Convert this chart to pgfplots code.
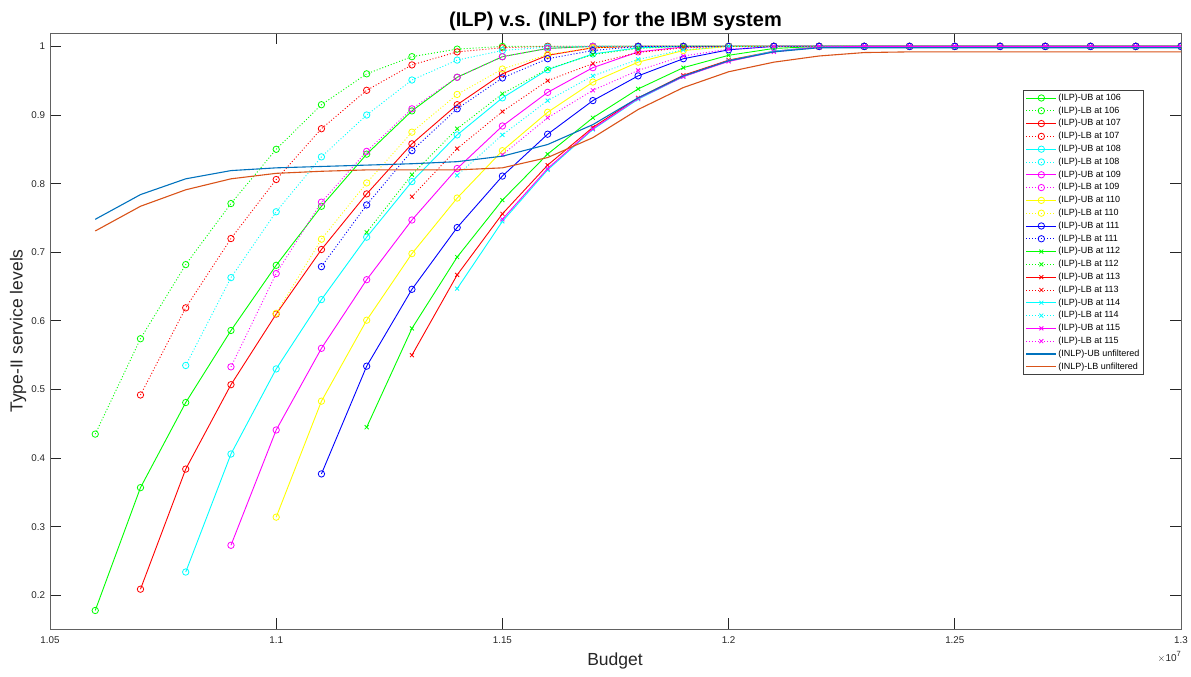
\documentclass[border=0pt]{standalone}
\usepackage{fontspec}
\setmainfont{Liberation Sans}
\usepackage{pgfplots}
\pgfplotsset{compat=1.18}
\definecolor{matblue}{rgb}{0,0.447,0.741}
\definecolor{matorange}{rgb}{0.851,0.325,0.098}
\definecolor{axgray}{rgb}{0.38,0.38,0.38}
\definecolor{txtgray}{rgb}{0.15,0.15,0.15}
\definecolor{mgreen}{rgb}{0,1,0}
\definecolor{mred}{rgb}{1,0,0}
\definecolor{mcyan}{rgb}{0,1,1}
\definecolor{mmagenta}{rgb}{1,0,1}
\definecolor{myellow}{rgb}{1,1,0}
\definecolor{mblue}{rgb}{0,0,1}
\pgfplotsset{
  ub/.style={solid, line width=0.9pt},
  lb/.style={dash pattern=on 1pt off 2pt, line width=0.9pt},
  co/.style={mark=o, mark size=3.2pt, mark options={solid, line width=0.8pt}},
  cx/.style={mark=x, mark size=2.8pt, mark options={solid, line width=0.8pt}},
}
\begin{document}
\begin{tikzpicture}
\begin{axis}[
  name=ax,
  at={(0,0)}, anchor=south west,
  scale only axis, width=1131pt, height=596pt,
  xmin=1.05, xmax=1.30, ymin=0.151, ymax=1.0195,
  xtick={1.05,1.1,1.15,1.2,1.25,1.3},
  xticklabels={1.05,1.1,1.15,1.2,1.25,1.3},
  ytick={0.2,0.3,0.4,0.5,0.6,0.7,0.8,0.9,1},
  yticklabels={0.2,0.3,0.4,0.5,0.6,0.7,0.8,0.9,1},
  /pgf/number format/assume math mode=true,
  tick align=inside, major tick length=11pt,
  axis line style={axgray, line width=0.8pt},
  every tick/.style={txtgray, line width=0.8pt},
  tick label style={font=\fontsize{9.8}{11}\selectfont, text=txtgray},
  xticklabel style={yshift=-4pt},
  yticklabel style={xshift=-1.5pt},
  clip marker paths=true,
  title={(ILP) v.s. (INLP) for the IBM system},
  every axis title shift=0pt,
  title style={at={(axis description cs:0.5,1.0101)}, anchor=base, inner sep=0pt, font=\bfseries\fontsize{20}{24}\selectfont},
  xlabel={Budget},
  xlabel style={at={(axis description cs:0.4996,-0.0537)}, anchor=center, font=\fontsize{17.5}{20}\selectfont, text=txtgray},
  ylabel={Type-II service levels},
  ylabel style={at={(axis description cs:-0.0283,0.5)}, anchor=center, rotate=0, font=\fontsize{17.5}{20}\selectfont, text=txtgray},
  legend style={at={(axis description cs:0.9673,0.9044)}, anchor=north east,
    font=\fontsize{9}{10}\selectfont, draw=black!75, line width=0.6pt, fill=white,
    row sep=1.4pt, inner xsep=3pt, inner ysep=2pt,
    nodes={inner sep=1.4pt, text height=6.6pt, text depth=2pt, anchor=west}},
  legend cell align=left,
  legend image code/.code={\draw[mark repeat=2,mark phase=2] plot coordinates {(0pt,0pt) (15pt,0pt) (30pt,0pt)};},
]
% UB 106
\addplot[mgreen, ub, co] coordinates {(1.06,0.178)(1.07,0.357)(1.08,0.481)(1.09,0.586)(1.10,0.681)(1.11,0.767)(1.12,0.843)(1.13,0.906)(1.14,0.955)(1.15,0.985)(1.16,0.997)(1.17,1)(1.18,1)(1.19,1)(1.20,1)(1.21,1)(1.22,1)(1.23,1)(1.24,1)(1.25,1)(1.26,1)(1.27,1)(1.28,1)(1.29,1)(1.30,1)};
\addlegendentry{(ILP)-UB at 106}
% LB 106
\addplot[mgreen, lb, co] coordinates {(1.06,0.435)(1.07,0.574)(1.08,0.682)(1.09,0.771)(1.10,0.850)(1.11,0.915)(1.12,0.960)(1.13,0.985)(1.14,0.996)(1.15,1)(1.16,1)(1.17,1)(1.18,1)(1.19,1)(1.20,1)(1.21,1)(1.22,1)(1.23,1)(1.24,1)(1.25,1)(1.26,1)(1.27,1)(1.28,1)(1.29,1)(1.30,1)};
\addlegendentry{(ILP)-LB at 106}
% UB 107
\addplot[mred, ub, co] coordinates {(1.07,0.209)(1.08,0.384)(1.09,0.507)(1.10,0.610)(1.11,0.704)(1.12,0.785)(1.13,0.858)(1.14,0.915)(1.15,0.960)(1.16,0.987)(1.17,0.998)(1.18,1)(1.19,1)(1.20,1)(1.21,1)(1.22,1)(1.23,1)(1.24,1)(1.25,1)(1.26,1)(1.27,1)(1.28,1)(1.29,1)(1.30,1)};
\addlegendentry{(ILP)-UB at 107}
% LB 107
\addplot[mred, lb, co] coordinates {(1.07,0.492)(1.08,0.619)(1.09,0.720)(1.10,0.806)(1.11,0.880)(1.12,0.936)(1.13,0.973)(1.14,0.992)(1.15,0.998)(1.16,1)(1.17,1)(1.18,1)(1.19,1)(1.20,1)(1.21,1)(1.22,1)(1.23,1)(1.24,1)(1.25,1)(1.26,1)(1.27,1)(1.28,1)(1.29,1)(1.30,1)};
\addlegendentry{(ILP)-LB at 107}
% UB 108
\addplot[mcyan, ub, co] coordinates {(1.08,0.234)(1.09,0.406)(1.10,0.530)(1.11,0.631)(1.12,0.722)(1.13,0.803)(1.14,0.871)(1.15,0.925)(1.16,0.966)(1.17,0.989)(1.18,0.998)(1.19,1)(1.20,1)(1.21,1)(1.22,1)(1.23,1)(1.24,1)(1.25,1)(1.26,1)(1.27,1)(1.28,1)(1.29,1)(1.30,1)};
\addlegendentry{(ILP)-UB at 108}
% LB 108
\addplot[mcyan, lb, co] coordinates {(1.08,0.535)(1.09,0.663)(1.10,0.759)(1.11,0.839)(1.12,0.900)(1.13,0.951)(1.14,0.980)(1.15,0.994)(1.16,0.999)(1.17,1)(1.18,1)(1.19,1)(1.20,1)(1.21,1)(1.22,1)(1.23,1)(1.24,1)(1.25,1)(1.26,1)(1.27,1)(1.28,1)(1.29,1)(1.30,1)};
\addlegendentry{(ILP)-LB at 108}
% UB 109
\addplot[mmagenta, ub, co] coordinates {(1.09,0.273)(1.10,0.441)(1.11,0.560)(1.12,0.660)(1.13,0.747)(1.14,0.822)(1.15,0.884)(1.16,0.933)(1.17,0.969)(1.18,0.992)(1.19,0.999)(1.20,1)(1.21,1)(1.22,1)(1.23,1)(1.24,1)(1.25,1)(1.26,1)(1.27,1)(1.28,1)(1.29,1)(1.30,1)};
\addlegendentry{(ILP)-UB at 109}
% LB 109
\addplot[mmagenta, lb, co] coordinates {(1.09,0.533)(1.10,0.669)(1.11,0.773)(1.12,0.847)(1.13,0.909)(1.14,0.955)(1.15,0.985)(1.16,0.997)(1.17,1)(1.18,1)(1.19,1)(1.20,1)(1.21,1)(1.22,1)(1.23,1)(1.24,1)(1.25,1)(1.26,1)(1.27,1)(1.28,1)(1.29,1)(1.30,1)};
\addlegendentry{(ILP)-LB at 109}
% UB 110
\addplot[myellow, ub, co] coordinates {(1.10,0.314)(1.11,0.483)(1.12,0.601)(1.13,0.698)(1.14,0.779)(1.15,0.848)(1.16,0.904)(1.17,0.948)(1.18,0.977)(1.19,0.994)(1.20,1)(1.21,1)(1.22,1)(1.23,1)(1.24,1)(1.25,1)(1.26,1)(1.27,1)(1.28,1)(1.29,1)(1.30,1)};
\addlegendentry{(ILP)-UB at 110}
% LB 110
\addplot[myellow, lb, co] coordinates {(1.10,0.611)(1.11,0.719)(1.12,0.801)(1.13,0.875)(1.14,0.930)(1.15,0.967)(1.16,0.988)(1.17,0.998)(1.18,1)(1.19,1)(1.20,1)(1.21,1)(1.22,1)(1.23,1)(1.24,1)(1.25,1)(1.26,1)(1.27,1)(1.28,1)(1.29,1)(1.30,1)};
\addlegendentry{(ILP)-LB at 110}
% UB 111
\addplot[mblue, ub, co] coordinates {(1.11,0.377)(1.12,0.534)(1.13,0.646)(1.14,0.736)(1.15,0.811)(1.16,0.872)(1.17,0.921)(1.18,0.957)(1.19,0.982)(1.20,0.995)(1.21,1)(1.22,1)(1.23,1)(1.24,1)(1.25,1)(1.26,1)(1.27,1)(1.28,1)(1.29,1)(1.30,1)};
\addlegendentry{(ILP)-UB at 111}
% LB 111
\addplot[mblue, lb, co] coordinates {(1.11,0.679)(1.12,0.769)(1.13,0.848)(1.14,0.909)(1.15,0.954)(1.16,0.982)(1.17,0.994)(1.18,1)(1.19,1)(1.20,1)(1.21,1)(1.22,1)(1.23,1)(1.24,1)(1.25,1)(1.26,1)(1.27,1)(1.28,1)(1.29,1)(1.30,1)};
\addlegendentry{(ILP)-LB at 111}
% UB 112
\addplot[mgreen, ub, cx] coordinates {(1.12,0.445)(1.13,0.589)(1.14,0.693)(1.15,0.776)(1.16,0.843)(1.17,0.896)(1.18,0.938)(1.19,0.969)(1.20,0.987)(1.21,0.997)(1.22,1)(1.23,1)(1.24,1)(1.25,1)(1.26,1)(1.27,1)(1.28,1)(1.29,1)(1.30,1)};
\addlegendentry{(ILP)-UB at 112}
% LB 112
\addplot[mgreen, lb, cx] coordinates {(1.12,0.729)(1.13,0.813)(1.14,0.880)(1.15,0.931)(1.16,0.967)(1.17,0.988)(1.18,0.997)(1.19,1)(1.20,1)(1.21,1)(1.22,1)(1.23,1)(1.24,1)(1.25,1)(1.26,1)(1.27,1)(1.28,1)(1.29,1)(1.30,1)};
\addlegendentry{(ILP)-LB at 112}
% UB 113
\addplot[mred, ub, cx] coordinates {(1.13,0.550)(1.14,0.667)(1.15,0.756)(1.16,0.827)(1.17,0.882)(1.18,0.925)(1.19,0.958)(1.20,0.980)(1.21,0.993)(1.22,0.999)(1.23,1)(1.24,1)(1.25,1)(1.26,1)(1.27,1)(1.28,1)(1.29,1)(1.30,1)};
\addlegendentry{(ILP)-UB at 113}
% LB 113
\addplot[mred, lb, cx] coordinates {(1.13,0.781)(1.14,0.851)(1.15,0.905)(1.16,0.950)(1.17,0.975)(1.18,0.991)(1.19,0.998)(1.20,1)(1.21,1)(1.22,1)(1.23,1)(1.24,1)(1.25,1)(1.26,1)(1.27,1)(1.28,1)(1.29,1)(1.30,1)};
\addlegendentry{(ILP)-LB at 113}
% UB 114
\addplot[mcyan, ub, cx] coordinates {(1.14,0.647)(1.15,0.745)(1.16,0.820)(1.17,0.879)(1.18,0.923)(1.19,0.956)(1.20,0.979)(1.21,0.993)(1.22,0.999)(1.23,1)(1.24,1)(1.25,1)(1.26,1)(1.27,1)(1.28,1)(1.29,1)(1.30,1)};
\addlegendentry{(ILP)-UB at 114}
% LB 114
\addplot[mcyan, lb, cx] coordinates {(1.14,0.812)(1.15,0.871)(1.16,0.921)(1.17,0.957)(1.18,0.981)(1.19,0.995)(1.20,1)(1.21,1)(1.22,1)(1.23,1)(1.24,1)(1.25,1)(1.26,1)(1.27,1)(1.28,1)(1.29,1)(1.30,1)};
\addlegendentry{(ILP)-LB at 114}
% UB 115
\addplot[mmagenta, ub, cx] coordinates {(1.15,0.748)(1.16,0.822)(1.17,0.880)(1.18,0.924)(1.19,0.956)(1.20,0.978)(1.21,0.992)(1.22,0.999)(1.23,1)(1.24,1)(1.25,1)(1.26,1)(1.27,1)(1.28,1)(1.29,1)(1.30,1)};
\addlegendentry{(ILP)-UB at 115}
% LB 115
\addplot[mmagenta, lb, cx] coordinates {(1.15,0.842)(1.16,0.896)(1.17,0.936)(1.18,0.965)(1.19,0.986)(1.20,0.996)(1.21,1)(1.22,1)(1.23,1)(1.24,1)(1.25,1)(1.26,1)(1.27,1)(1.28,1)(1.29,1)(1.30,1)};
\addlegendentry{(ILP)-LB at 115}
% INLP UB
\addplot[matblue, solid, line width=1.1pt, mark=none] coordinates {(1.06,0.748)(1.07,0.784)(1.08,0.807)(1.09,0.819)(1.10,0.823)(1.11,0.825)(1.12,0.827)(1.13,0.829)(1.14,0.832)(1.15,0.840)(1.16,0.857)(1.17,0.886)(1.18,0.925)(1.19,0.957)(1.20,0.979)(1.21,0.992)(1.22,0.998)(1.23,0.998)(1.24,0.998)(1.25,0.998)(1.26,0.998)(1.27,0.998)(1.28,0.998)(1.29,0.998)(1.30,0.998)};
\addlegendentry{(INLP)-UB unfiltered}
% INLP LB
\addplot[matorange, solid, line width=1.1pt, mark=none] coordinates {(1.06,0.731)(1.07,0.767)(1.08,0.791)(1.09,0.807)(1.10,0.815)(1.11,0.818)(1.12,0.820)(1.13,0.820)(1.14,0.820)(1.15,0.823)(1.16,0.838)(1.17,0.867)(1.18,0.908)(1.19,0.940)(1.20,0.963)(1.21,0.977)(1.22,0.986)(1.23,0.991)(1.24,0.992)(1.25,0.992)(1.26,0.992)(1.27,0.992)(1.28,0.992)(1.29,0.992)(1.30,0.992)};
\addlegendentry{(INLP)-LB unfiltered}
\end{axis}
\node[anchor=north east, font=\fontsize{10}{11}\selectfont, text=txtgray, inner sep=0pt] at ([yshift=-22pt]ax.south east) {$\times$10\raisebox{0.9ex}{\fontsize{7.5}{8}\selectfont 7}};
\pgfresetboundingbox
\useasboundingbox (-50pt,-48pt) rectangle (1141pt,629pt);
\end{tikzpicture}
\end{document}
